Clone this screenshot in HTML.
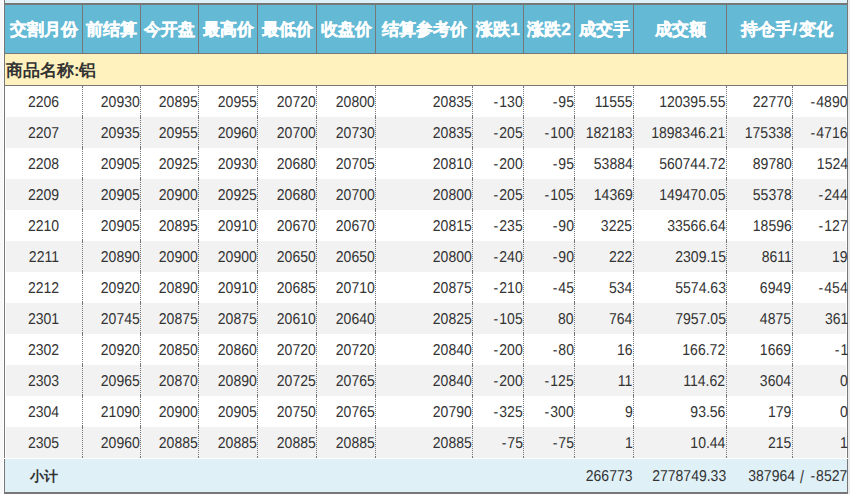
<!DOCTYPE html>
<html><head><meta charset="utf-8"><style>
*{margin:0;padding:0;box-sizing:border-box}
html,body{width:850px;height:494px;overflow:hidden;background:#fff;font-family:"Liberation Sans",sans-serif}
.a{position:absolute}
.hd{position:absolute;color:#fff;font-weight:bold;font-size:17px;line-height:20px;text-align:center;white-space:nowrap;-webkit-text-stroke:0.35px #fff}
.n{position:absolute;color:#333333;font-size:15.75px;line-height:20px;text-rendering:geometricPrecision;text-align:right;white-space:nowrap}
.n>span{display:inline-block;transform:scaleX(0.89);transform-origin:100% 50%}
.c>span{transform-origin:50% 50%}
i{font-style:normal;margin-right:1.2px}
.dv{position:absolute;width:1px;height:31px;border-top:1px solid #777;border-bottom:1px solid #777;background-image:linear-gradient(#777 50%,transparent 50%);background-size:1px 2px}
</style></head><body>

<div class="a" style="left:0;top:0;width:3px;height:494px;background:#f8f8f8"></div>
<div class="a" style="left:848px;top:0;width:2px;height:494px;background:#ebebeb"></div>
<div class="a" style="left:5px;top:0;width:842px;height:3px;background:#def0f7"></div>
<div class="a" style="left:4px;top:0;width:1px;height:458px;background:#777777"></div>
<div class="a" style="left:847px;top:0;width:1px;height:458px;background:#777777"></div>
<div class="a" style="left:4px;top:3px;width:844px;height:2px;background:#777777"></div>
<div class="a" style="left:5px;top:5px;width:842px;height:48px;background:#64b9d5"></div>
<div class="a" style="left:4px;top:53px;width:844px;height:1px;background:#777777"></div>
<div class="a" style="left:82px;top:5px;width:1px;height:48px;background:#777777"></div>
<div class="a" style="left:140px;top:5px;width:1px;height:48px;background:#777777"></div>
<div class="a" style="left:198px;top:5px;width:1px;height:48px;background:#777777"></div>
<div class="a" style="left:257px;top:5px;width:1px;height:48px;background:#777777"></div>
<div class="a" style="left:316px;top:5px;width:1px;height:48px;background:#777777"></div>
<div class="a" style="left:375px;top:5px;width:1px;height:48px;background:#777777"></div>
<div class="a" style="left:472px;top:5px;width:1px;height:48px;background:#777777"></div>
<div class="a" style="left:523px;top:5px;width:1px;height:48px;background:#777777"></div>
<div class="a" style="left:574px;top:5px;width:1px;height:48px;background:#777777"></div>
<div class="a" style="left:633px;top:5px;width:1px;height:48px;background:#777777"></div>
<div class="a" style="left:726px;top:5px;width:1px;height:48px;background:#777777"></div>
<div class="hd" style="left:5px;top:20px;width:77px">交割月份</div>
<div class="hd" style="left:83px;top:20px;width:57px">前结算</div>
<div class="hd" style="left:141px;top:20px;width:57px">今开盘</div>
<div class="hd" style="left:199px;top:20px;width:58px">最高价</div>
<div class="hd" style="left:258px;top:20px;width:58px">最低价</div>
<div class="hd" style="left:317px;top:20px;width:58px">收盘价</div>
<div class="hd" style="left:376px;top:20px;width:96px">结算参考价</div>
<div class="hd" style="left:473px;top:20px;width:50px">涨跌1</div>
<div class="hd" style="left:524px;top:20px;width:50px">涨跌2</div>
<div class="hd" style="left:575px;top:20px;width:58px">成交手</div>
<div class="hd" style="left:634px;top:20px;width:92px">成交额</div>
<div class="hd" style="left:727px;top:20px;width:120px">持仓手<b style="margin:0 2.2px 0 1px">/</b>变化</div>
<div class="a" style="left:5px;top:54px;width:842px;height:31px;background:#fff2bf"></div>
<div class="a" style="left:4px;top:85px;width:844px;height:1px;background:#777777"></div>
<div class="a" style="left:6px;top:60px;font-size:16.5px;line-height:20px;font-weight:bold;color:#333">商品名称:铝</div>
<div class="n c" style="left:5px;top:93px;width:77px;text-align:center"><span>2206</span></div>
<div class="n" style="left:83px;top:93px;width:56.5px"><span>20930</span></div>
<div class="n" style="left:141px;top:93px;width:56.5px"><span>20895</span></div>
<div class="n" style="left:199px;top:93px;width:57.5px"><span>20955</span></div>
<div class="n" style="left:258px;top:93px;width:57.5px"><span>20720</span></div>
<div class="n" style="left:317px;top:93px;width:57.5px"><span>20800</span></div>
<div class="n" style="left:376px;top:93px;width:95.5px"><span>20835</span></div>
<div class="n" style="left:473px;top:93px;width:49.5px"><span><i>-</i>130</span></div>
<div class="n" style="left:524px;top:93px;width:49.5px"><span><i>-</i>95</span></div>
<div class="n" style="left:575px;top:93px;width:57.5px"><span>11555</span></div>
<div class="n" style="left:634px;top:93px;width:91.5px"><span>120395.55</span></div>
<div class="n" style="left:727px;top:93px;width:64.5px"><span>22770</span></div>
<div class="n" style="left:793px;top:93px;width:54.8px"><span><i>-</i>4890</span></div>
<div class="a" style="left:6px;top:117px;width:840px;height:31px;background:#f2f2f2"></div>
<div class="n c" style="left:5px;top:124px;width:77px;text-align:center"><span>2207</span></div>
<div class="n" style="left:83px;top:124px;width:56.5px"><span>20935</span></div>
<div class="n" style="left:141px;top:124px;width:56.5px"><span>20955</span></div>
<div class="n" style="left:199px;top:124px;width:57.5px"><span>20960</span></div>
<div class="n" style="left:258px;top:124px;width:57.5px"><span>20700</span></div>
<div class="n" style="left:317px;top:124px;width:57.5px"><span>20730</span></div>
<div class="n" style="left:376px;top:124px;width:95.5px"><span>20835</span></div>
<div class="n" style="left:473px;top:124px;width:49.5px"><span><i>-</i>205</span></div>
<div class="n" style="left:524px;top:124px;width:49.5px"><span><i>-</i>100</span></div>
<div class="n" style="left:575px;top:124px;width:57.5px"><span>182183</span></div>
<div class="n" style="left:634px;top:124px;width:91.5px"><span>1898346.21</span></div>
<div class="n" style="left:727px;top:124px;width:64.5px"><span>175338</span></div>
<div class="n" style="left:793px;top:124px;width:54.8px"><span><i>-</i>4716</span></div>
<div class="n c" style="left:5px;top:155px;width:77px;text-align:center"><span>2208</span></div>
<div class="n" style="left:83px;top:155px;width:56.5px"><span>20905</span></div>
<div class="n" style="left:141px;top:155px;width:56.5px"><span>20925</span></div>
<div class="n" style="left:199px;top:155px;width:57.5px"><span>20930</span></div>
<div class="n" style="left:258px;top:155px;width:57.5px"><span>20680</span></div>
<div class="n" style="left:317px;top:155px;width:57.5px"><span>20705</span></div>
<div class="n" style="left:376px;top:155px;width:95.5px"><span>20810</span></div>
<div class="n" style="left:473px;top:155px;width:49.5px"><span><i>-</i>200</span></div>
<div class="n" style="left:524px;top:155px;width:49.5px"><span><i>-</i>95</span></div>
<div class="n" style="left:575px;top:155px;width:57.5px"><span>53884</span></div>
<div class="n" style="left:634px;top:155px;width:91.5px"><span>560744.72</span></div>
<div class="n" style="left:727px;top:155px;width:64.5px"><span>89780</span></div>
<div class="n" style="left:793px;top:155px;width:54.8px"><span>1524</span></div>
<div class="a" style="left:6px;top:179px;width:840px;height:31px;background:#f2f2f2"></div>
<div class="n c" style="left:5px;top:186px;width:77px;text-align:center"><span>2209</span></div>
<div class="n" style="left:83px;top:186px;width:56.5px"><span>20905</span></div>
<div class="n" style="left:141px;top:186px;width:56.5px"><span>20900</span></div>
<div class="n" style="left:199px;top:186px;width:57.5px"><span>20925</span></div>
<div class="n" style="left:258px;top:186px;width:57.5px"><span>20680</span></div>
<div class="n" style="left:317px;top:186px;width:57.5px"><span>20700</span></div>
<div class="n" style="left:376px;top:186px;width:95.5px"><span>20800</span></div>
<div class="n" style="left:473px;top:186px;width:49.5px"><span><i>-</i>205</span></div>
<div class="n" style="left:524px;top:186px;width:49.5px"><span><i>-</i>105</span></div>
<div class="n" style="left:575px;top:186px;width:57.5px"><span>14369</span></div>
<div class="n" style="left:634px;top:186px;width:91.5px"><span>149470.05</span></div>
<div class="n" style="left:727px;top:186px;width:64.5px"><span>55378</span></div>
<div class="n" style="left:793px;top:186px;width:54.8px"><span><i>-</i>244</span></div>
<div class="n c" style="left:5px;top:217px;width:77px;text-align:center"><span>2210</span></div>
<div class="n" style="left:83px;top:217px;width:56.5px"><span>20905</span></div>
<div class="n" style="left:141px;top:217px;width:56.5px"><span>20895</span></div>
<div class="n" style="left:199px;top:217px;width:57.5px"><span>20910</span></div>
<div class="n" style="left:258px;top:217px;width:57.5px"><span>20670</span></div>
<div class="n" style="left:317px;top:217px;width:57.5px"><span>20670</span></div>
<div class="n" style="left:376px;top:217px;width:95.5px"><span>20815</span></div>
<div class="n" style="left:473px;top:217px;width:49.5px"><span><i>-</i>235</span></div>
<div class="n" style="left:524px;top:217px;width:49.5px"><span><i>-</i>90</span></div>
<div class="n" style="left:575px;top:217px;width:57.5px"><span>3225</span></div>
<div class="n" style="left:634px;top:217px;width:91.5px"><span>33566.64</span></div>
<div class="n" style="left:727px;top:217px;width:64.5px"><span>18596</span></div>
<div class="n" style="left:793px;top:217px;width:54.8px"><span><i>-</i>127</span></div>
<div class="a" style="left:6px;top:241px;width:840px;height:31px;background:#f2f2f2"></div>
<div class="n c" style="left:5px;top:248px;width:77px;text-align:center"><span>2211</span></div>
<div class="n" style="left:83px;top:248px;width:56.5px"><span>20890</span></div>
<div class="n" style="left:141px;top:248px;width:56.5px"><span>20900</span></div>
<div class="n" style="left:199px;top:248px;width:57.5px"><span>20900</span></div>
<div class="n" style="left:258px;top:248px;width:57.5px"><span>20650</span></div>
<div class="n" style="left:317px;top:248px;width:57.5px"><span>20650</span></div>
<div class="n" style="left:376px;top:248px;width:95.5px"><span>20800</span></div>
<div class="n" style="left:473px;top:248px;width:49.5px"><span><i>-</i>240</span></div>
<div class="n" style="left:524px;top:248px;width:49.5px"><span><i>-</i>90</span></div>
<div class="n" style="left:575px;top:248px;width:57.5px"><span>222</span></div>
<div class="n" style="left:634px;top:248px;width:91.5px"><span>2309.15</span></div>
<div class="n" style="left:727px;top:248px;width:64.5px"><span>8611</span></div>
<div class="n" style="left:793px;top:248px;width:54.8px"><span>19</span></div>
<div class="n c" style="left:5px;top:279px;width:77px;text-align:center"><span>2212</span></div>
<div class="n" style="left:83px;top:279px;width:56.5px"><span>20920</span></div>
<div class="n" style="left:141px;top:279px;width:56.5px"><span>20890</span></div>
<div class="n" style="left:199px;top:279px;width:57.5px"><span>20910</span></div>
<div class="n" style="left:258px;top:279px;width:57.5px"><span>20685</span></div>
<div class="n" style="left:317px;top:279px;width:57.5px"><span>20710</span></div>
<div class="n" style="left:376px;top:279px;width:95.5px"><span>20875</span></div>
<div class="n" style="left:473px;top:279px;width:49.5px"><span><i>-</i>210</span></div>
<div class="n" style="left:524px;top:279px;width:49.5px"><span><i>-</i>45</span></div>
<div class="n" style="left:575px;top:279px;width:57.5px"><span>534</span></div>
<div class="n" style="left:634px;top:279px;width:91.5px"><span>5574.63</span></div>
<div class="n" style="left:727px;top:279px;width:64.5px"><span>6949</span></div>
<div class="n" style="left:793px;top:279px;width:54.8px"><span><i>-</i>454</span></div>
<div class="a" style="left:6px;top:303px;width:840px;height:31px;background:#f2f2f2"></div>
<div class="n c" style="left:5px;top:310px;width:77px;text-align:center"><span>2301</span></div>
<div class="n" style="left:83px;top:310px;width:56.5px"><span>20745</span></div>
<div class="n" style="left:141px;top:310px;width:56.5px"><span>20875</span></div>
<div class="n" style="left:199px;top:310px;width:57.5px"><span>20875</span></div>
<div class="n" style="left:258px;top:310px;width:57.5px"><span>20610</span></div>
<div class="n" style="left:317px;top:310px;width:57.5px"><span>20640</span></div>
<div class="n" style="left:376px;top:310px;width:95.5px"><span>20825</span></div>
<div class="n" style="left:473px;top:310px;width:49.5px"><span><i>-</i>105</span></div>
<div class="n" style="left:524px;top:310px;width:49.5px"><span>80</span></div>
<div class="n" style="left:575px;top:310px;width:57.5px"><span>764</span></div>
<div class="n" style="left:634px;top:310px;width:91.5px"><span>7957.05</span></div>
<div class="n" style="left:727px;top:310px;width:64.5px"><span>4875</span></div>
<div class="n" style="left:793px;top:310px;width:54.8px"><span>361</span></div>
<div class="n c" style="left:5px;top:341px;width:77px;text-align:center"><span>2302</span></div>
<div class="n" style="left:83px;top:341px;width:56.5px"><span>20920</span></div>
<div class="n" style="left:141px;top:341px;width:56.5px"><span>20850</span></div>
<div class="n" style="left:199px;top:341px;width:57.5px"><span>20860</span></div>
<div class="n" style="left:258px;top:341px;width:57.5px"><span>20720</span></div>
<div class="n" style="left:317px;top:341px;width:57.5px"><span>20720</span></div>
<div class="n" style="left:376px;top:341px;width:95.5px"><span>20840</span></div>
<div class="n" style="left:473px;top:341px;width:49.5px"><span><i>-</i>200</span></div>
<div class="n" style="left:524px;top:341px;width:49.5px"><span><i>-</i>80</span></div>
<div class="n" style="left:575px;top:341px;width:57.5px"><span>16</span></div>
<div class="n" style="left:634px;top:341px;width:91.5px"><span>166.72</span></div>
<div class="n" style="left:727px;top:341px;width:64.5px"><span>1669</span></div>
<div class="n" style="left:793px;top:341px;width:54.8px"><span><i>-</i>1</span></div>
<div class="a" style="left:6px;top:365px;width:840px;height:31px;background:#f2f2f2"></div>
<div class="n c" style="left:5px;top:372px;width:77px;text-align:center"><span>2303</span></div>
<div class="n" style="left:83px;top:372px;width:56.5px"><span>20965</span></div>
<div class="n" style="left:141px;top:372px;width:56.5px"><span>20870</span></div>
<div class="n" style="left:199px;top:372px;width:57.5px"><span>20890</span></div>
<div class="n" style="left:258px;top:372px;width:57.5px"><span>20725</span></div>
<div class="n" style="left:317px;top:372px;width:57.5px"><span>20765</span></div>
<div class="n" style="left:376px;top:372px;width:95.5px"><span>20840</span></div>
<div class="n" style="left:473px;top:372px;width:49.5px"><span><i>-</i>200</span></div>
<div class="n" style="left:524px;top:372px;width:49.5px"><span><i>-</i>125</span></div>
<div class="n" style="left:575px;top:372px;width:57.5px"><span>11</span></div>
<div class="n" style="left:634px;top:372px;width:91.5px"><span>114.62</span></div>
<div class="n" style="left:727px;top:372px;width:64.5px"><span>3604</span></div>
<div class="n" style="left:793px;top:372px;width:54.8px"><span>0</span></div>
<div class="n c" style="left:5px;top:403px;width:77px;text-align:center"><span>2304</span></div>
<div class="n" style="left:83px;top:403px;width:56.5px"><span>21090</span></div>
<div class="n" style="left:141px;top:403px;width:56.5px"><span>20900</span></div>
<div class="n" style="left:199px;top:403px;width:57.5px"><span>20905</span></div>
<div class="n" style="left:258px;top:403px;width:57.5px"><span>20750</span></div>
<div class="n" style="left:317px;top:403px;width:57.5px"><span>20765</span></div>
<div class="n" style="left:376px;top:403px;width:95.5px"><span>20790</span></div>
<div class="n" style="left:473px;top:403px;width:49.5px"><span><i>-</i>325</span></div>
<div class="n" style="left:524px;top:403px;width:49.5px"><span><i>-</i>300</span></div>
<div class="n" style="left:575px;top:403px;width:57.5px"><span>9</span></div>
<div class="n" style="left:634px;top:403px;width:91.5px"><span>93.56</span></div>
<div class="n" style="left:727px;top:403px;width:64.5px"><span>179</span></div>
<div class="n" style="left:793px;top:403px;width:54.8px"><span>0</span></div>
<div class="a" style="left:6px;top:427px;width:840px;height:31px;background:#f2f2f2"></div>
<div class="n c" style="left:5px;top:434px;width:77px;text-align:center"><span>2305</span></div>
<div class="n" style="left:83px;top:434px;width:56.5px"><span>20960</span></div>
<div class="n" style="left:141px;top:434px;width:56.5px"><span>20885</span></div>
<div class="n" style="left:199px;top:434px;width:57.5px"><span>20885</span></div>
<div class="n" style="left:258px;top:434px;width:57.5px"><span>20885</span></div>
<div class="n" style="left:317px;top:434px;width:57.5px"><span>20885</span></div>
<div class="n" style="left:376px;top:434px;width:95.5px"><span>20885</span></div>
<div class="n" style="left:473px;top:434px;width:49.5px"><span><i>-</i>75</span></div>
<div class="n" style="left:524px;top:434px;width:49.5px"><span><i>-</i>75</span></div>
<div class="n" style="left:575px;top:434px;width:57.5px"><span>1</span></div>
<div class="n" style="left:634px;top:434px;width:91.5px"><span>10.44</span></div>
<div class="n" style="left:727px;top:434px;width:64.5px"><span>215</span></div>
<div class="n" style="left:793px;top:434px;width:54.8px"><span>1</span></div>
<div class="dv" style="left:82px;top:86px"></div>
<div class="dv" style="left:140px;top:86px"></div>
<div class="dv" style="left:198px;top:86px"></div>
<div class="dv" style="left:257px;top:86px"></div>
<div class="dv" style="left:316px;top:86px"></div>
<div class="dv" style="left:375px;top:86px"></div>
<div class="dv" style="left:472px;top:86px"></div>
<div class="dv" style="left:523px;top:86px"></div>
<div class="dv" style="left:574px;top:86px"></div>
<div class="dv" style="left:633px;top:86px"></div>
<div class="dv" style="left:726px;top:86px"></div>
<div class="dv" style="left:792px;top:86px"></div>
<div class="dv" style="left:82px;top:117px"></div>
<div class="dv" style="left:140px;top:117px"></div>
<div class="dv" style="left:198px;top:117px"></div>
<div class="dv" style="left:257px;top:117px"></div>
<div class="dv" style="left:316px;top:117px"></div>
<div class="dv" style="left:375px;top:117px"></div>
<div class="dv" style="left:472px;top:117px"></div>
<div class="dv" style="left:523px;top:117px"></div>
<div class="dv" style="left:574px;top:117px"></div>
<div class="dv" style="left:633px;top:117px"></div>
<div class="dv" style="left:726px;top:117px"></div>
<div class="dv" style="left:792px;top:117px"></div>
<div class="dv" style="left:82px;top:148px"></div>
<div class="dv" style="left:140px;top:148px"></div>
<div class="dv" style="left:198px;top:148px"></div>
<div class="dv" style="left:257px;top:148px"></div>
<div class="dv" style="left:316px;top:148px"></div>
<div class="dv" style="left:375px;top:148px"></div>
<div class="dv" style="left:472px;top:148px"></div>
<div class="dv" style="left:523px;top:148px"></div>
<div class="dv" style="left:574px;top:148px"></div>
<div class="dv" style="left:633px;top:148px"></div>
<div class="dv" style="left:726px;top:148px"></div>
<div class="dv" style="left:792px;top:148px"></div>
<div class="dv" style="left:82px;top:179px"></div>
<div class="dv" style="left:140px;top:179px"></div>
<div class="dv" style="left:198px;top:179px"></div>
<div class="dv" style="left:257px;top:179px"></div>
<div class="dv" style="left:316px;top:179px"></div>
<div class="dv" style="left:375px;top:179px"></div>
<div class="dv" style="left:472px;top:179px"></div>
<div class="dv" style="left:523px;top:179px"></div>
<div class="dv" style="left:574px;top:179px"></div>
<div class="dv" style="left:633px;top:179px"></div>
<div class="dv" style="left:726px;top:179px"></div>
<div class="dv" style="left:792px;top:179px"></div>
<div class="dv" style="left:82px;top:210px"></div>
<div class="dv" style="left:140px;top:210px"></div>
<div class="dv" style="left:198px;top:210px"></div>
<div class="dv" style="left:257px;top:210px"></div>
<div class="dv" style="left:316px;top:210px"></div>
<div class="dv" style="left:375px;top:210px"></div>
<div class="dv" style="left:472px;top:210px"></div>
<div class="dv" style="left:523px;top:210px"></div>
<div class="dv" style="left:574px;top:210px"></div>
<div class="dv" style="left:633px;top:210px"></div>
<div class="dv" style="left:726px;top:210px"></div>
<div class="dv" style="left:792px;top:210px"></div>
<div class="dv" style="left:82px;top:241px"></div>
<div class="dv" style="left:140px;top:241px"></div>
<div class="dv" style="left:198px;top:241px"></div>
<div class="dv" style="left:257px;top:241px"></div>
<div class="dv" style="left:316px;top:241px"></div>
<div class="dv" style="left:375px;top:241px"></div>
<div class="dv" style="left:472px;top:241px"></div>
<div class="dv" style="left:523px;top:241px"></div>
<div class="dv" style="left:574px;top:241px"></div>
<div class="dv" style="left:633px;top:241px"></div>
<div class="dv" style="left:726px;top:241px"></div>
<div class="dv" style="left:792px;top:241px"></div>
<div class="dv" style="left:82px;top:272px"></div>
<div class="dv" style="left:140px;top:272px"></div>
<div class="dv" style="left:198px;top:272px"></div>
<div class="dv" style="left:257px;top:272px"></div>
<div class="dv" style="left:316px;top:272px"></div>
<div class="dv" style="left:375px;top:272px"></div>
<div class="dv" style="left:472px;top:272px"></div>
<div class="dv" style="left:523px;top:272px"></div>
<div class="dv" style="left:574px;top:272px"></div>
<div class="dv" style="left:633px;top:272px"></div>
<div class="dv" style="left:726px;top:272px"></div>
<div class="dv" style="left:792px;top:272px"></div>
<div class="dv" style="left:82px;top:303px"></div>
<div class="dv" style="left:140px;top:303px"></div>
<div class="dv" style="left:198px;top:303px"></div>
<div class="dv" style="left:257px;top:303px"></div>
<div class="dv" style="left:316px;top:303px"></div>
<div class="dv" style="left:375px;top:303px"></div>
<div class="dv" style="left:472px;top:303px"></div>
<div class="dv" style="left:523px;top:303px"></div>
<div class="dv" style="left:574px;top:303px"></div>
<div class="dv" style="left:633px;top:303px"></div>
<div class="dv" style="left:726px;top:303px"></div>
<div class="dv" style="left:792px;top:303px"></div>
<div class="dv" style="left:82px;top:334px"></div>
<div class="dv" style="left:140px;top:334px"></div>
<div class="dv" style="left:198px;top:334px"></div>
<div class="dv" style="left:257px;top:334px"></div>
<div class="dv" style="left:316px;top:334px"></div>
<div class="dv" style="left:375px;top:334px"></div>
<div class="dv" style="left:472px;top:334px"></div>
<div class="dv" style="left:523px;top:334px"></div>
<div class="dv" style="left:574px;top:334px"></div>
<div class="dv" style="left:633px;top:334px"></div>
<div class="dv" style="left:726px;top:334px"></div>
<div class="dv" style="left:792px;top:334px"></div>
<div class="dv" style="left:82px;top:365px"></div>
<div class="dv" style="left:140px;top:365px"></div>
<div class="dv" style="left:198px;top:365px"></div>
<div class="dv" style="left:257px;top:365px"></div>
<div class="dv" style="left:316px;top:365px"></div>
<div class="dv" style="left:375px;top:365px"></div>
<div class="dv" style="left:472px;top:365px"></div>
<div class="dv" style="left:523px;top:365px"></div>
<div class="dv" style="left:574px;top:365px"></div>
<div class="dv" style="left:633px;top:365px"></div>
<div class="dv" style="left:726px;top:365px"></div>
<div class="dv" style="left:792px;top:365px"></div>
<div class="dv" style="left:82px;top:396px"></div>
<div class="dv" style="left:140px;top:396px"></div>
<div class="dv" style="left:198px;top:396px"></div>
<div class="dv" style="left:257px;top:396px"></div>
<div class="dv" style="left:316px;top:396px"></div>
<div class="dv" style="left:375px;top:396px"></div>
<div class="dv" style="left:472px;top:396px"></div>
<div class="dv" style="left:523px;top:396px"></div>
<div class="dv" style="left:574px;top:396px"></div>
<div class="dv" style="left:633px;top:396px"></div>
<div class="dv" style="left:726px;top:396px"></div>
<div class="dv" style="left:792px;top:396px"></div>
<div class="dv" style="left:82px;top:427px"></div>
<div class="dv" style="left:140px;top:427px"></div>
<div class="dv" style="left:198px;top:427px"></div>
<div class="dv" style="left:257px;top:427px"></div>
<div class="dv" style="left:316px;top:427px"></div>
<div class="dv" style="left:375px;top:427px"></div>
<div class="dv" style="left:472px;top:427px"></div>
<div class="dv" style="left:523px;top:427px"></div>
<div class="dv" style="left:574px;top:427px"></div>
<div class="dv" style="left:633px;top:427px"></div>
<div class="dv" style="left:726px;top:427px"></div>
<div class="dv" style="left:792px;top:427px"></div>
<div class="a" style="left:4px;top:459px;width:1px;height:35px;background:#777777"></div>
<div class="a" style="left:847px;top:459px;width:1px;height:35px;background:#777777"></div>
<div class="a" style="left:5px;top:459px;width:842px;height:33px;background:#dff0f7"></div>
<div class="a" style="left:4px;top:492px;width:844px;height:2px;background:#777777"></div>
<div class="a" style="left:5px;top:466px;width:77px;font-size:14px;line-height:20px;font-weight:bold;color:#333;text-align:center">小计</div>
<div class="n" style="left:575px;top:467px;width:58px"><span>266773</span></div>
<div class="n" style="left:634px;top:467px;width:92px"><span>2778749.33</span></div>
<div class="n" style="left:727px;top:467px;width:120px"><span>387964<span style="margin-left:1.1px"> </span><span style="display:inline-block;transform:scaleY(1.15);transform-origin:50% 0">/</span><span style="margin-left:3px"> </span><i>-</i>8527</span></div>
</body></html>
